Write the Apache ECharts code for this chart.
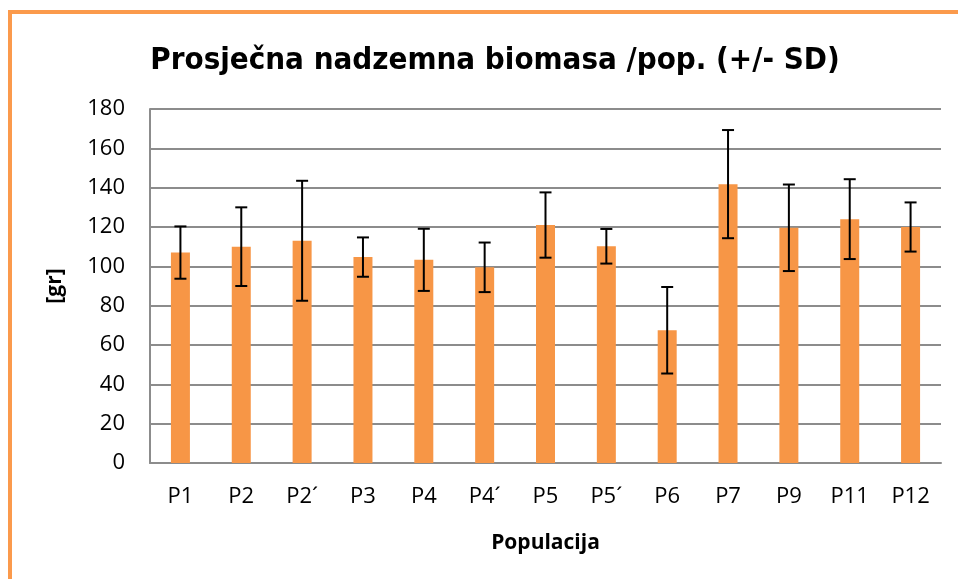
<!DOCTYPE html>
<html>
<head>
<meta charset="utf-8">
<script src="https://cdn.jsdelivr.net/npm/echarts@6/dist/echarts.min.js"></script>
<style>
html,body{margin:0;padding:0;background:#fff;}
#c{width:958px;height:579px;}
</style>
</head>
<body>
<div id="c"></div>
<script>
const categories = ['P1','P2','P2´','P3','P4','P4´','P5','P5´','P6','P7','P9','P11','P12'];
const means = [107, 110, 113, 104.7, 103.3, 99.5, 121, 110.2, 67.5, 141.8, 119.6, 124, 120];
const sds   = [13.3, 20, 30.5, 10, 15.8, 12.6, 16.6, 8.8, 22, 27.5, 22, 20.3, 12.5];
const yTicks = [0, 20, 40, 60, 80, 100, 120, 140, 160, 180];

const errData = categories.map((c, i) => [i, means[i] - sds[i], means[i] + sds[i]]);

const chart = echarts.init(document.getElementById('c'), null, {renderer: 'canvas'});
const FONT = '"Open Sans", "Liberation Sans", sans-serif';
const TFONT = '"Liberation Sans Narrow", "DejaVu Sans Condensed", "Open Sans", sans-serif';

chart.setOption({
  animation: false,
  backgroundColor: '#fff',
  graphic: [{
    type: 'rect',
    shape: {x: 10, y: 12, width: 1000, height: 700},
    style: {fill: 'none', stroke: '#FB9A4C', lineWidth: 4},
    silent: true,
    z: 100
  }],
  title: {
    text: 'Prosječna nadzemna biomasa /pop. (+/- SD)',
    left: 490,
    textAlign: 'center',
    top: 40,
    textStyle: {fontFamily: TFONT, fontWeight: 'bold', fontSize: 31, color: '#000'}
  },
  grid: {left: 150, right: 17, top: 109, bottom: 116, containLabel: false},
  xAxis: {
    type: 'category',
    data: categories,
    name: 'Populacija',
    nameLocation: 'middle',
    nameGap: 70,
    nameTextStyle: {fontFamily: FONT, fontWeight: 'bold', fontSize: 21, color: '#000'},
    axisLine: {lineStyle: {color: '#8c8c8c', width: 2}},
    axisTick: {show: false},
    axisLabel: {fontFamily: FONT, fontSize: 22, color: '#000', margin: 23},
    splitLine: {show: false}
  },
  yAxis: {
    type: 'value',
    min: yTicks[0],
    max: yTicks[yTicks.length - 1],
    interval: 20,
    name: '[gr]',
    nameLocation: 'middle',
    nameGap: 84,
    nameRotate: 90,
    nameTextStyle: {fontFamily: FONT, fontWeight: 'bold', fontSize: 21, color: '#000'},
    axisLine: {show: true, lineStyle: {color: '#8c8c8c', width: 2}},
    axisTick: {show: false},
    axisLabel: {fontFamily: FONT, fontSize: 22, color: '#000', margin: 25},
    splitLine: {lineStyle: {color: '#8c8c8c', width: 2}}
  },
  series: [{
    type: 'bar',
    data: means,
    barWidth: 19,
    itemStyle: {color: '#F79646'},
    z: 2
  }, {
    type: 'custom',
    data: errData,
    z: 3,
    renderItem: function (params, api) {
      const x = api.value(0);
      const lo = api.coord([x, api.value(1)]);
      const hi = api.coord([x, api.value(2)]);
      const hw = 6;
      const st = {stroke: '#000', lineWidth: 2};
      return {
        type: 'group',
        children: [
          {type: 'line', shape: {x1: lo[0], y1: lo[1], x2: hi[0], y2: hi[1]}, style: st},
          {type: 'line', shape: {x1: hi[0] - hw, y1: hi[1], x2: hi[0] + hw, y2: hi[1]}, style: st},
          {type: 'line', shape: {x1: lo[0] - hw, y1: lo[1], x2: lo[0] + hw, y2: lo[1]}, style: st}
        ]
      };
    }
  }]
});
</script>
</body>
</html>
